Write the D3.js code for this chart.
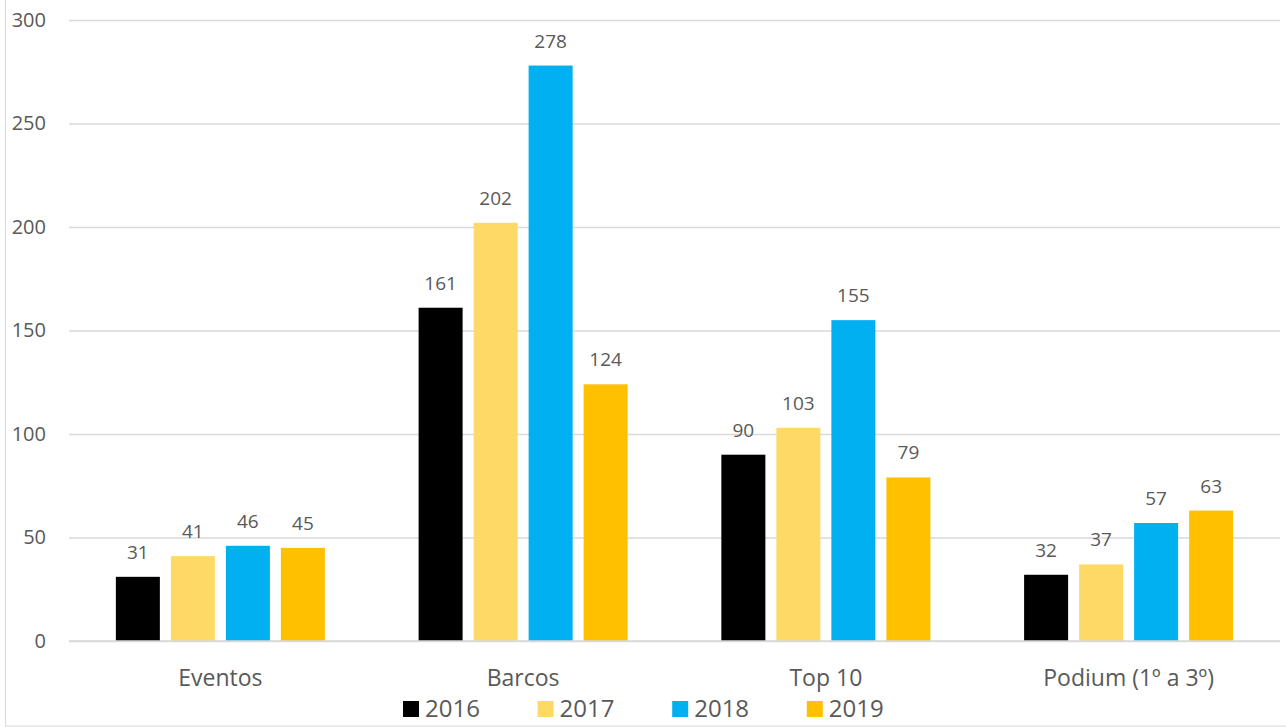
<!DOCTYPE html>
<html>
<head>
<meta charset="utf-8">
<script src="https://cdn.jsdelivr.net/npm/d3@7"></script>
<style>
  body { margin: 0; background: #fff; }
  text { font-family: "Open Sans", sans-serif; fill: #595959; }
</style>
</head>
<body>
<div id="vis"></div>
<script>
const categories = ["Eventos", "Barcos", "Top 10", "Podium (1º a 3º)"];
const years = ["2016", "2017", "2018", "2019"];
const values2016 = [31, 161, 90, 32];
const values2017 = [41, 202, 103, 37];
const values2018 = [46, 278, 155, 57];
const values2019 = [45, 124, 79, 63];
const colors = ["#000000", "#FFD966", "#00B0F0", "#FFC000"];
const yTicks = [0, 50, 100, 150, 200, 250, 300];

const layout = {
  width: 1286,
  height: 727,
  left: 69,
  right: 1280,
  top: 20,
  bottom: 641
};

const series = [values2016, values2017, values2018, values2019];
const rows = [];
categories.forEach((c, i) => {
  years.forEach((y, j) => rows.push({ cat: c, year: y, value: series[j][i], color: colors[j] }));
});

const svg = d3.select("#vis").append("svg")
  .attr("width", layout.width)
  .attr("height", layout.height);

// chart frame
svg.append("rect")
  .attr("x", 5.5).attr("y", -10)
  .attr("width", 1300).attr("height", 736)
  .attr("fill", "none")
  .attr("stroke", "#d9d9d9");

let yScale = d3.scaleLinear().domain([0, 300]).range([layout.bottom, layout.top]);
let x0 = d3.scaleBand().domain(categories).range([layout.left, layout.right]);
let x1 = d3.scaleBand().domain(years).range([0, x0.bandwidth()])
  .paddingInner(0.2).paddingOuter(0.852);

// gridlines + tick labels
let yAxis = svg.append("g")
  .attr("transform", `translate(${layout.left},0)`)
  .call(d3.axisLeft(yScale).tickValues(yTicks).tickSize(-(layout.right - layout.left)).tickPadding(23));
yAxis.select(".domain").remove();
yAxis.selectAll("line").attr("stroke", "#d9d9d9").attr("stroke-width", 1.5);
yAxis.selectAll("text")
  .attr("font-size", 20)
  .style("font-family", "'Open Sans', sans-serif")
  .attr("fill", "#595959");

// bars
let bars = svg.append("g").selectAll("rect").data(rows);
bars.join("rect")
  .attr("x", d => x0(d.cat) + x1(d.year))
  .attr("y", d => yScale(d.value))
  .attr("width", x1.bandwidth())
  .attr("height", d => yScale(0) - yScale(d.value))
  .attr("fill", d => d.color);

// axis baseline on top of bars
svg.append("line")
  .attr("x1", layout.left).attr("x2", layout.right)
  .attr("y1", yScale(0)).attr("y2", yScale(0))
  .attr("stroke", "#d9d9d9").attr("stroke-width", 1.5);

// value labels
svg.append("g").selectAll("text").data(rows).join("text")
  .attr("x", d => x0(d.cat) + x1(d.year) + x1.bandwidth() / 2)
  .attr("y", d => yScale(d.value) - 18)
  .attr("text-anchor", "middle")
  .attr("font-size", 19)
  .text(d => d.value);

// category labels
svg.append("g").selectAll("text").data(categories).join("text")
  .attr("x", d => x0(d) + x0.bandwidth() / 2)
  .attr("y", 686)
  .attr("text-anchor", "middle")
  .attr("font-size", 23)
  .text(d => d);

// legend
let legend = svg.append("g").selectAll("g").data(years).join("g")
  .attr("transform", (d, i) => `translate(${403 + i * 134.6},701)`);
legend.append("rect")
  .attr("width", 16).attr("height", 16)
  .attr("fill", (d, i) => colors[i]);
legend.append("text")
  .attr("x", 22).attr("y", 16)
  .attr("font-size", 24)
  .text(d => d);
</script>
</body>
</html>
